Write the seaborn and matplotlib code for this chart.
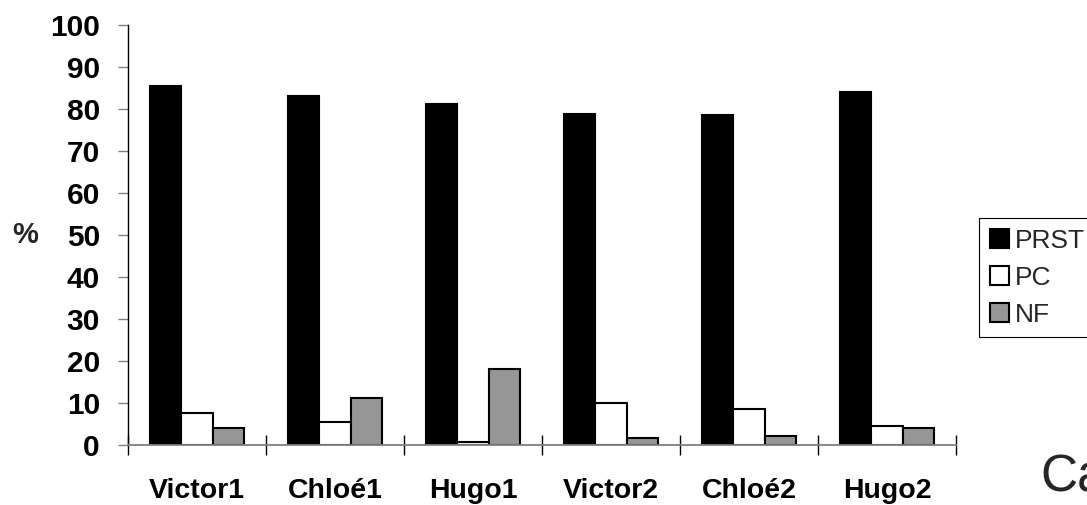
#!/usr/bin/env python3
"""Grouped bar chart: PRST / PC / NF percentages per child and session."""

import matplotlib.pyplot as plt
import pandas as pd
import seaborn as sns
from matplotlib.ticker import FixedLocator

# values
children = ['Victor1', 'Chloé1', 'Hugo1', 'Victor2', 'Chloé2', 'Hugo2']
series = ['PRST', 'PC', 'NF']
prst = [85.5, 83.0, 81.2, 78.7, 78.6, 84.0]
pc = [7.7, 5.4, 0.8, 9.9, 8.6, 4.6]
nf = [4.0, 11.3, 18.1, 1.7, 2.2, 4.0]
yticks = list(range(0, 101, 10))

colors = {'PRST': '#000000', 'PC': '#ffffff', 'NF': '#969696'}


def build_frame():
    rows = []
    for name, vals in zip(series, [prst, pc, nf]):
        for child, v in zip(children, vals):
            rows.append({'enfant': child, 'type': name, 'pct': v})
    return pd.DataFrame(rows)


def main():
    df = build_frame()

    sns.set_theme(style='white')
    plt.rcParams['font.family'] = ['Liberation Sans', 'DejaVu Sans']

    fig = plt.figure(figsize=(10.87, 5.05), dpi=100)
    ax = fig.add_axes([128 / 1087, 60 / 505, 828 / 1087, 420 / 505])

    sns.barplot(data=df, x='enfant', y='pct', hue='type', order=children,
                hue_order=series, palette=colors, width=0.675, gap=0,
                edgecolor='black', linewidth=1.5, saturation=1, ax=ax)

    ax.set_ylim(0, 100)
    ax.set_xlim(-0.5, len(children) - 0.5)
    ax.set_yticks(yticks)
    ax.set_xlabel('')
    ax.set_ylabel('%', rotation=0, fontsize=21, fontweight='bold',
                  ha='center', va='center')
    ax.yaxis.set_label_coords(-103 / 828, 0.5)

    for lab in ax.get_yticklabels():
        lab.set_fontweight('bold')
    for lab in ax.get_xticklabels():
        lab.set_fontweight('bold')

    # Excel-like axes
    sns.despine(ax=ax, top=True, right=True)
    ax.spines['left'].set_color('black')
    ax.spines['left'].set_linewidth(1.0)
    ax.spines['bottom'].set_color('#808080')
    ax.spines['bottom'].set_linewidth(1.3)

    ax.tick_params(axis='y', which='major', left=True, length=7.2, width=1,
                   color='#808080', labelsize=21.5, pad=13, labelcolor='black')
    ax.tick_params(axis='x', which='major', bottom=True, length=0,
                   labelsize=20.5, pad=24, labelcolor='black')
    ax.xaxis.set_minor_locator(FixedLocator([i - 0.5 for i in range(len(children) + 1)]))
    ax.tick_params(axis='x', which='minor', bottom=True, direction='inout',
                   length=14.4, width=1, color='black')

    # legend partly outside the figure, like the original
    handles, labels = ax.get_legend_handles_labels()
    ax.get_legend().remove()
    leg = fig.legend(handles, labels, loc='upper left',
                     bbox_to_anchor=(979 / 1087, 1 - 218 / 505),
                     fontsize=19, frameon=True, fancybox=False,
                     handlelength=0.75, handleheight=0.75, handletextpad=0.2,
                     labelspacing=0.5, borderpad=0.4, borderaxespad=0)
    leg.get_frame().set_edgecolor('black')
    leg.get_frame().set_linewidth(0.8)
    leg.get_frame().set_alpha(None)

    fig.text(1040 / 1087, 13 / 505, 'Ca', fontsize=37, va='baseline', ha='left')

    fig.savefig('out.png', dpi=100)


if __name__ == '__main__':
    main()
